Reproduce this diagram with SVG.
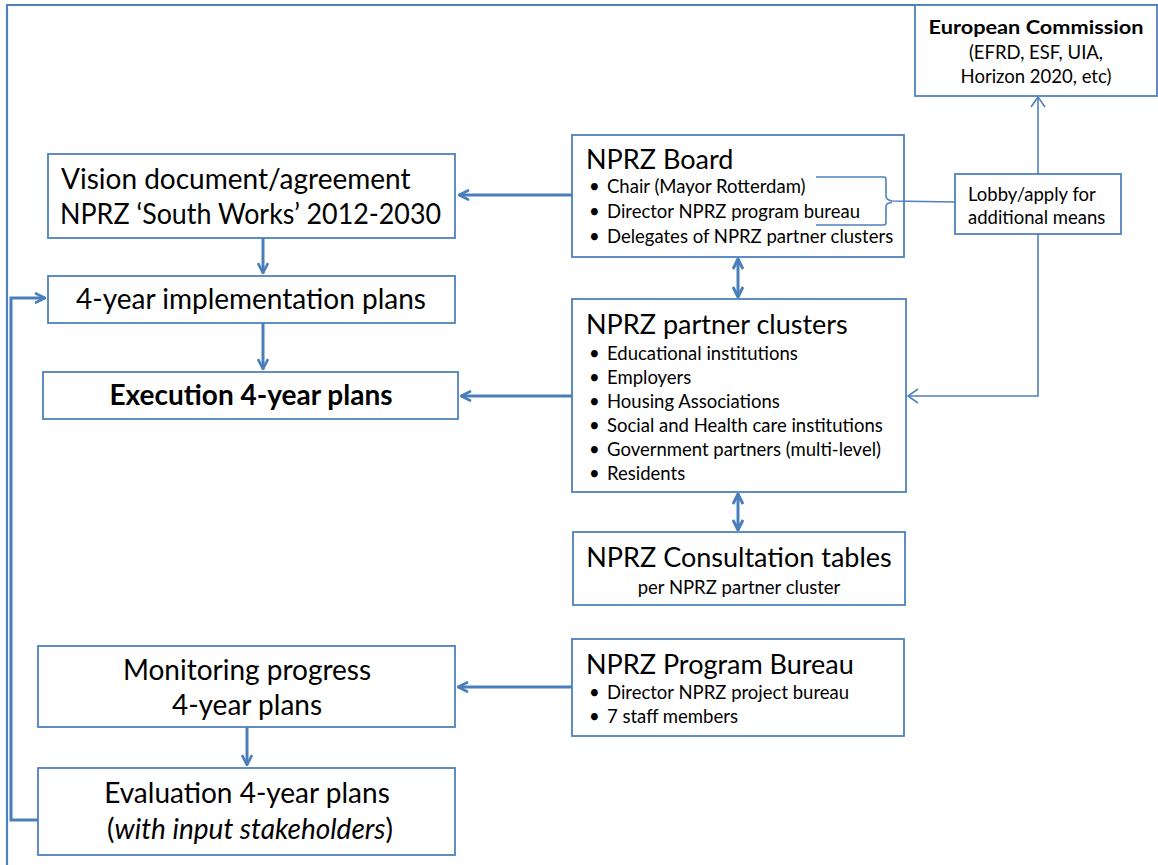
<svg xmlns="http://www.w3.org/2000/svg" width="1158" height="865" viewBox="0 0 1158 865">
<defs>
<style>
.box{fill:#fff;stroke:#4f81bd;stroke-width:1.8}
.t{font-family:Lato,"Open Sans",sans-serif;fill:#000}
.big{font-size:28px}
.ttl{font-size:27px}
.sm{font-size:18.5px}
.c{text-anchor:middle}
.thick{fill:none;stroke:#4a7ebb;stroke-width:3}
.thin{fill:none;stroke:#4f81bd;stroke-width:1.6}
</style>
<marker id="ah" viewBox="0 0 12 12" refX="11" refY="6" markerWidth="12" markerHeight="12" markerUnits="userSpaceOnUse" orient="auto-start-reverse"><path d="M1,1 L11,6 L1,11" fill="none" stroke="#4a7ebb" stroke-width="2.6"/></marker>
<marker id="ahs" viewBox="0 0 12 12" refX="11" refY="6" markerWidth="12" markerHeight="12" markerUnits="userSpaceOnUse" orient="auto-start-reverse"><path d="M1,1 L11,6 L1,11" fill="none" stroke="#4a7ebb" stroke-width="3"/></marker>
<marker id="at" viewBox="0 0 12 16" refX="11" refY="8" markerWidth="12" markerHeight="16" markerUnits="userSpaceOnUse" orient="auto"><path d="M1,1 L11,8 L1,15" fill="none" stroke="#4f81bd" stroke-width="1.6"/></marker>
</defs>
<rect width="1158" height="865" fill="#fff"/>
<g id="frame"><path d="M7,865 V5 H1158" fill="none" stroke="#4f81bd" stroke-width="2.2"/></g>
<g id="ec"><rect class="box" x="915" y="5" width="242" height="91"/>
<text class="t c" x="1036" y="34" font-size="19" font-weight="bold" textLength="215" lengthAdjust="spacingAndGlyphs">European Commission</text>
<text class="t c sm" x="1036" y="59">(EFRD, ESF, UIA,</text>
<text class="t c sm" x="1036" y="83">Horizon 2020, etc)</text></g>
<g id="vision"><rect class="box" x="48" y="154" width="407" height="84"/>
<text class="t big" x="61" y="189">Vision document/agreement</text>
<text class="t big" x="60" y="224" textLength="381" lengthAdjust="spacingAndGlyphs">NPRZ ‘South Works’ 2012-2030</text></g>
<g id="impl"><rect class="box" x="48" y="276" width="407" height="47"/>
<text class="t c big" x="251" y="309">4-year implementation plans</text></g>
<g id="exec"><rect class="box" x="43" y="372" width="415" height="47"/>
<text class="t c big" x="251" y="405" font-weight="bold">Execution 4-year plans</text></g>
<g id="monitor"><rect class="box" x="38" y="646" width="417" height="81"/>
<text class="t c big" x="247" y="680">Monitoring progress</text>
<text class="t c big" x="247" y="715">4-year plans</text></g>
<g id="eval"><rect class="box" x="38" y="768" width="417" height="87"/>
<text class="t c big" x="247" y="803">Evaluation 4-year plans</text>
<text class="t c big" x="250" y="839">(<tspan font-style="italic">with input stakeholders</tspan>)</text></g>
<g id="board"><rect class="box" x="572" y="135" width="332" height="122"/>
<text class="t ttl" x="586" y="169">NPRZ Board</text>
<text class="t sm" x="589" y="193">•</text><text class="t sm" x="607" y="193">Chair (Mayor Rotterdam)</text>
<text class="t sm" x="589" y="218">•</text><text class="t sm" x="607" y="218">Director NPRZ program bureau</text>
<text class="t sm" x="589" y="243">•</text><text class="t sm" x="607" y="243">Delegates of NPRZ partner clusters</text></g>
<g id="lobby"><rect class="box" x="955" y="174" width="166" height="60"/>
<text class="t sm" x="968" y="201">Lobby/apply for</text>
<text class="t sm" x="968" y="224">additional means</text></g>
<g id="clusters"><rect class="box" x="572" y="299" width="334" height="193"/>
<text class="t ttl" x="586" y="334">NPRZ partner clusters</text>
<text class="t sm" x="589" y="360">•</text><text class="t sm" x="607" y="360">Educational institutions</text>
<text class="t sm" x="589" y="384">•</text><text class="t sm" x="607" y="384">Employers</text>
<text class="t sm" x="589" y="408">•</text><text class="t sm" x="607" y="408">Housing Associations</text>
<text class="t sm" x="589" y="432">•</text><text class="t sm" x="607" y="432">Social and Health care institutions</text>
<text class="t sm" x="589" y="456">•</text><text class="t sm" x="607" y="456">Government partners (multi-level)</text>
<text class="t sm" x="589" y="480">•</text><text class="t sm" x="607" y="480">Residents</text></g>
<g id="consult"><rect class="box" x="573" y="532" width="332" height="73"/>
<text class="t c ttl" x="739" y="567">NPRZ Consultation tables</text>
<text class="t c sm" x="739" y="594">per NPRZ partner cluster</text></g>
<g id="bureau"><rect class="box" x="572" y="639" width="332" height="97"/>
<text class="t ttl" x="586" y="674">NPRZ Program Bureau</text>
<text class="t sm" x="589" y="699">•</text><text class="t sm" x="607" y="699">Director NPRZ project bureau</text>
<text class="t sm" x="589" y="723">•</text><text class="t sm" x="607" y="723">7 staff members</text></g>
<g id="connectors">
<path class="thick" d="M572,195 H459" marker-end="url(#ah)"/>
<path class="thick" d="M263,238 V273" marker-end="url(#ah)"/>
<path class="thick" d="M263,323 V369" marker-end="url(#ah)"/>
<path class="thick" d="M572,396 H461" marker-end="url(#ah)"/>
<path class="thick" d="M738,259 V297" marker-start="url(#ahs)" marker-end="url(#ahs)"/>
<path class="thick" d="M738,494 V530" marker-start="url(#ahs)" marker-end="url(#ahs)"/>
<path class="thick" d="M572,687 H458" marker-end="url(#ah)"/>
<path class="thick" d="M247,727 V765" marker-end="url(#ah)"/>
<path class="thick" d="M38,820 H11 V298 H45" marker-end="url(#ah)"/>
<path class="thin" d="M1038,174 V97" marker-end="url(#at)"/>
<path class="thin" d="M1038,234 V396 H908" marker-end="url(#at)"/>
<path class="thin" d="M816,177 H884 Q886,177 886,180 V196 Q886,200 892,201 L955,202"/>
<path class="thin" d="M816,225 H884 Q886,225 886,222 V206 Q886,203 892,202.5"/>
</g>
</svg>
